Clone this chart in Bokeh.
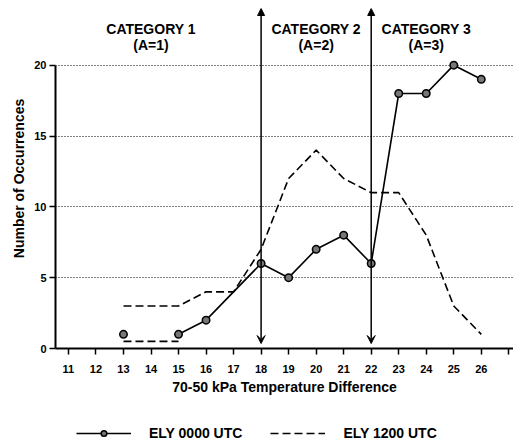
from bokeh.plotting import figure
from bokeh.layouts import column
from bokeh.models import (ColumnDataSource, FixedTicker, Range1d, Arrow, NormalHead,
                          VeeHead, Legend, LegendItem)
from bokeh.core.properties import value
from bokeh.embed import file_html
from bokeh.resources import INLINE

# ---------------- data ----------------
x_ticks = [11, 12, 13, 14, 15, 16, 17, 18, 19, 20, 21, 22, 23, 24, 25, 26, 27]
x_tick_labels = ["11", "12", "13", "14", "15", "16", "17", "18", "19", "20",
                 "21", "22", "23", "24", "25", "26", ""]
y_ticks = [0, 5, 10, 15, 20]

ely0000_x = [13, 15, 16, 18, 19, 20, 21, 22, 23, 24, 25, 26]
ely0000_y = [1, 1, 2, 6, 5, 7, 8, 6, 18, 18, 20, 19]
ely0000_line_x = [15, 16, 18, 19, 20, 21, 22, 23, 24, 25, 26]
ely0000_line_y = [1, 2, 6, 5, 7, 8, 6, 18, 18, 20, 19]

ely1200_x = [13, 14, 15, 16, 17, 18, 19, 20, 21, 22, 23, 24, 25, 26]
ely1200_y = [3, 3, 3, 4, 4, 7, 12, 14, 12, 11, 11, 8, 3, 1]
ely1200_low_x = [13, 15]
ely1200_low_y = [0.5, 0.5]

category_bounds = [18, 22]
category_centers = [14, 20, 24]
category_names = ["CATEGORY 1", "CATEGORY 2", "CATEGORY 3"]
category_sub = ["(A=1)", "(A=2)", "(A=3)"]
legend_labels = ["ELY 0000 UTC", "ELY 1200 UTC"]

FONT = "Liberation Sans"

p = figure(frame_width=458, frame_height=340, output_backend="svg",
           toolbar_location=None,
           x_range=Range1d(10.53, 27.17), y_range=Range1d(0, 24),
           min_border_left=55, min_border_right=0, min_border_top=8,
           min_border_bottom=0, background_fill_color="white",
           border_fill_color="white")
p.outline_line_color = None

# grid
p.xgrid.visible = False
p.ygrid.ticker = FixedTicker(ticks=y_ticks[1:])
p.ygrid.grid_line_color = "black"
p.ygrid.grid_line_dash = "1 2"
p.ygrid.grid_line_width = 1

# axes
p.xaxis.ticker = FixedTicker(ticks=x_ticks)
p.xaxis.major_label_overrides = {t: l for t, l in zip(x_ticks, x_tick_labels)}
p.yaxis.ticker = FixedTicker(ticks=y_ticks)
p.yaxis.bounds = (0, 20)
for ax in (p.xaxis, p.yaxis):
    ax.axis_line_width = 2
    ax.axis_line_color = "black"
    ax.major_tick_line_color = "black"
    ax.major_tick_line_width = 1.5
    ax.major_tick_in = 0
    ax.major_tick_out = 6
    ax.minor_tick_line_color = None
    ax.major_label_text_font = FONT
    ax.major_label_text_font_style = "bold"
    ax.major_label_text_font_size = "11px"
    ax.major_label_text_color = "black"
    ax.axis_label_text_font = FONT
    ax.axis_label_text_font_style = "bold"
    ax.axis_label_text_font_size = "14px"
    ax.axis_label_text_color = "black"
p.xaxis.axis_label = "70-50 kPa Temperature Difference"
p.yaxis.axis_label = "Number of Occurrences"
p.xaxis.major_label_standoff = 10
p.xaxis.axis_label_standoff = 3
p.yaxis.major_label_standoff = 3
p.yaxis.axis_label_standoff = 4

LINE_1200 = dict(line_color="black", line_width=1.6, line_dash="8 4")
LINE_0000 = dict(line_color="black", line_width=1.6)
MARK_0000 = dict(marker="circle", size=7.5, fill_color="#777777",
                 line_color="black", line_width=1.5)

# series
p.line(ely1200_x, ely1200_y, **LINE_1200)
p.line(ely1200_low_x, ely1200_low_y, **LINE_1200)
p.line(ely0000_line_x, ely0000_line_y, **LINE_0000)
p.scatter(ely0000_x, ely0000_y, **MARK_0000)

# category boundary arrows
src_arrows = ColumnDataSource(dict(x0=category_bounds, x1=category_bounds,
                                   y0=[0.35] * len(category_bounds),
                                   y1=[24] * len(category_bounds)))
p.add_layout(Arrow(x_start="x0", y_start="y0", x_end="x1", y_end="y1",
                   source=src_arrows, line_color="black", line_width=1.5,
                   start=VeeHead(size=8, fill_color="black", line_color="black"),
                   end=NormalHead(size=7, fill_color="black", line_color="black")))

# category labels
src_cat = ColumnDataSource(dict(x=category_centers, y=[22.0] * 3,
                                name=category_names, sub=category_sub))
p.text(x="x", y="y", text="name", source=src_cat, text_align="center",
       text_baseline="middle", y_offset=-8, text_font=value(FONT),
       text_font_style="bold", text_font_size="14px", text_color="black")
p.text(x="x", y="y", text="sub", source=src_cat, text_align="center",
       text_baseline="middle", y_offset=8, text_font=value(FONT),
       text_font_style="bold", text_font_size="14px", text_color="black")

# legend strip below the chart (series drawn out of view, only legend shows)
lg = figure(width=513, height=44, output_backend="svg", toolbar_location=None,
            x_range=Range1d(0, 1), y_range=Range1d(0, 1),
            min_border_left=0, min_border_right=0, min_border_top=0,
            min_border_bottom=0, border_fill_color="white")
lg.axis.visible = False
lg.grid.visible = False
lg.outline_line_color = None
l0 = lg.line(ely0000_line_x, ely0000_line_y, **LINE_0000)
m0 = lg.scatter(ely0000_x, ely0000_y, **MARK_0000)
l1 = lg.line(ely1200_x, ely1200_y, **LINE_1200)
legend = Legend(items=[LegendItem(label=legend_labels[0], renderers=[l0, m0]),
                       LegendItem(label=legend_labels[1], renderers=[l1])],
                orientation="horizontal", location=(21, 0),
                glyph_width=55, glyph_height=14, label_standoff=18, spacing=28,
                label_text_font=FONT, label_text_font_style="bold",
                label_text_font_size="14px", label_text_color="black",
                border_line_color=None, background_fill_alpha=0,
                padding=2, margin=0)
lg.add_layout(legend)

layout = column(p, lg, spacing=0)
open("out.html", "w").write(file_html(layout, INLINE))
